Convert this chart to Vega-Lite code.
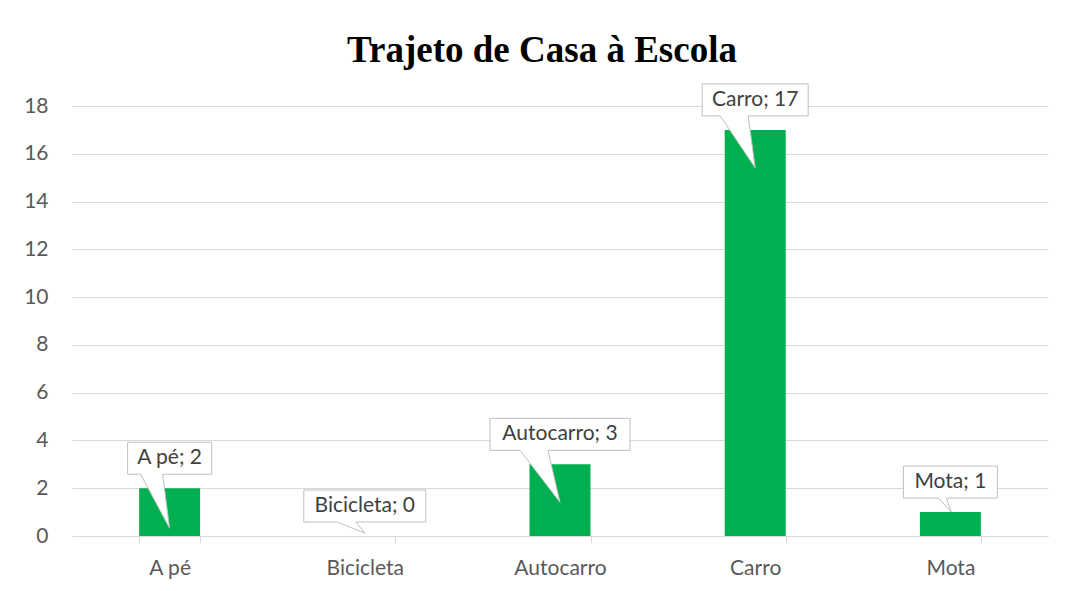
{
  "$schema": "https://vega.github.io/schema/vega-lite/v6.json",
  "width": 976,
  "height": 430,
  "autosize": {"type": "none"},
  "padding": {"left": 72, "top": 106, "right": 19, "bottom": 55},
  "background": "white",
  "title": {
    "text": "Trajeto de Casa à Escola",
    "font": "Liberation Serif",
    "fontSize": 37,
    "fontWeight": "bold",
    "color": "black",
    "anchor": "middle",
    "frame": "group",
    "dx": -18,
    "offset": 12
  },
  "data": {
    "values": [
      {"modo": "A pé", "n": 2, "label": "A pé; 2"},
      {"modo": "Bicicleta", "n": 0, "label": "Bicicleta; 0"},
      {"modo": "Autocarro", "n": 3, "label": "Autocarro; 3"},
      {"modo": "Carro", "n": 17, "label": "Carro; 17"},
      {"modo": "Mota", "n": 1, "label": "Mota; 1"}
    ]
  },
  "encoding": {
    "x": {
      "field": "modo",
      "type": "nominal",
      "sort": null,
      "scale": {"paddingInner": 0.6875, "paddingOuter": 0.34375},
      "axis": {
        "title": null,
        "labelAngle": 0,
        "labelFont": "Lato",
        "labelFontSize": 21,
        "labelColor": "#595959",
        "domainColor": "#d9d9d9",
        "domainWidth": 1,
        "tickColor": "#d9d9d9",
        "tickSize": 7,
        "tickBand": "extent",
        "labelPadding": 14,
        "grid": false
      }
    },
    "y": {
      "field": "n",
      "type": "quantitative",
      "scale": {"domain": [0, 18], "nice": false},
      "axis": {
        "title": null,
        "values": [0, 2, 4, 6, 8, 10, 12, 14, 16, 18],
        "domain": false,
        "ticks": false,
        "labelFont": "Lato",
        "labelFontSize": 21,
        "labelColor": "#595959",
        "labelPadding": 24,
        "gridColor": "#d9d9d9",
        "gridWidth": 1
      }
    }
  },
  "layer": [
    {
      "mark": {"type": "bar", "color": "#00B050"}
    },
    {
      "mark": {
        "type": "point",
        "filled": true,
        "fill": "white",
        "stroke": "#bfbfbf",
        "strokeWidth": 1,
        "size": 4,
        "opacity": 1,
        "fillOpacity": 1,
        "strokeOpacity": 1
      },
      "encoding": {
        "shape": {
          "field": "modo",
          "type": "nominal",
          "legend": null,
          "scale": {
            "domain": ["A pé", "Bicicleta", "Autocarro", "Carro", "Mota"],
            "range": [
              "M-42,-46H42V-14H-7L0,40L-29,-14H-42Z",
              "M-61,-46H61V-14H-9L0,-3L-28,-14H-61Z",
              "M-70,-46H70V-14H-12L0,38L-40,-14H-70Z",
              "M-53,-46H53V-14H-7L0,38L-35,-14H-53Z",
              "M-47,-46H47V-14H-4L1,0L-12,-14H-47Z"
            ]
          }
        }
      }
    },
    {
      "mark": {
        "type": "text",
        "dy": -30,
        "baseline": "middle",
        "align": "center",
        "font": "Lato",
        "fontSize": 21,
        "color": "#404040"
      },
      "encoding": {
        "text": {"field": "label", "type": "nominal"}
      }
    }
  ],
  "config": {
    "view": {"stroke": null}
  }
}
